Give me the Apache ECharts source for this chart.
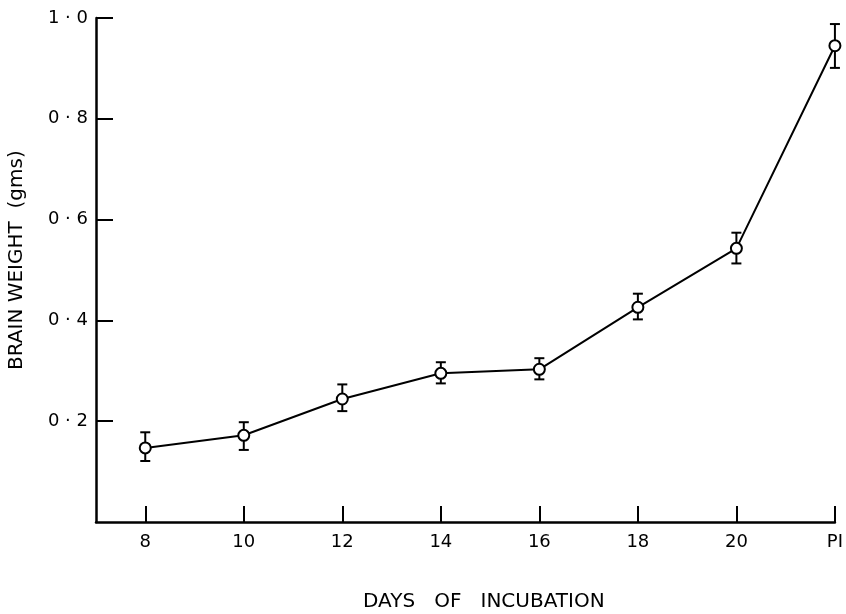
<!DOCTYPE html>
<html>
<head>
<meta charset="utf-8">
<script src="https://cdn.jsdelivr.net/npm/echarts@6/dist/echarts.min.js"></script>
<style>html,body{margin:0;padding:0;background:#fff;}#c{width:846px;height:614px;}</style>
</head>
<body>
<div id="c"></div>
<script>
var categories = ['8', '10', '12', '14', '16', '18', '20', 'PI'];
var meanWeight = [0.147, 0.172, 0.244, 0.295, 0.303, 0.426, 0.543, 0.945];
var errLow = [0.121, 0.143, 0.220, 0.275, 0.283, 0.402, 0.513, 0.901];
var errHigh = [0.178, 0.198, 0.273, 0.317, 0.325, 0.453, 0.574, 0.988];
var yTicks = [0.2, 0.4, 0.6, 0.8, 1.0];
var xTitle = 'DAYS   OF   INCUBATION';
var yTitle = 'BRAIN WEIGHT  (gms)';

var idx = categories.map(function (c, i) { return i; });
var lineData = meanWeight.map(function (v, i) { return [i, v]; });
var errData = meanWeight.map(function (v, i) { return [i, errLow[i], errHigh[i]]; });

var chart = echarts.init(document.getElementById('c'), null, {renderer: 'canvas'});
var font = 'DejaVu Sans';
chart.setOption({
  animation: false,
  backgroundColor: '#fff',
  grid: {left: 96, right: 11, top: 18, bottom: 92, containLabel: false},
  xAxis: {
    type: 'value', min: -0.5, max: 7,
    splitLine: {show: false},
    axisLine: {show: true, onZero: false, lineStyle: {color: '#000', width: 2.5}},
    axisTick: {show: true, inside: true, length: 16, customValues: idx, lineStyle: {color: '#000', width: 2}},
    axisLabel: {customValues: idx, margin: 11, color: '#000', fontFamily: font, fontSize: 18,
      formatter: function (v) { return categories[Math.round(v)]; }}
  },
  yAxis: {
    type: 'value', min: 0, max: 1.0,
    splitLine: {show: false},
    axisLine: {show: true, onZero: false, lineStyle: {color: '#000', width: 2.5}},
    axisTick: {show: true, inside: true, length: 17, customValues: yTicks, lineStyle: {color: '#000', width: 2}},
    axisLabel: {customValues: yTicks, margin: 8, color: '#000', fontFamily: font, fontSize: 18,
      formatter: function (v) { return v.toFixed(1).replace('.', ' · '); }}
  },
  graphic: [
    {type: 'text', left: 363, top: 592, style: {text: xTitle, fill: '#000', font: '20px "DejaVu Sans"'}},
    {type: 'text', x: 7, y: 370, rotation: Math.PI / 2, style: {text: yTitle, fill: '#000', font: '20px "DejaVu Sans"', textAlign: 'left', textVerticalAlign: 'top'}}
  ],
  series: [
    {
      type: 'custom', z: 1,
      data: errData,
      renderItem: function (params, api) {
        var x = api.value(0);
        var lo = api.coord([x, api.value(1)]);
        var hi = api.coord([x, api.value(2)]);
        var w = 5;
        var st = {stroke: '#000', lineWidth: 2};
        return {type: 'group', children: [
          {type: 'line', shape: {x1: lo[0], y1: lo[1], x2: hi[0], y2: hi[1]}, style: st},
          {type: 'line', shape: {x1: lo[0] - w, y1: lo[1], x2: lo[0] + w, y2: lo[1]}, style: st},
          {type: 'line', shape: {x1: hi[0] - w, y1: hi[1], x2: hi[0] + w, y2: hi[1]}, style: st}
        ]};
      }
    },
    {
      type: 'line', z: 2,
      data: lineData,
      symbol: 'circle', symbolSize: 11,
      lineStyle: {color: '#000', width: 2},
      itemStyle: {color: '#fff', borderColor: '#000', borderWidth: 2}
    }
  ]
});
</script>
</body>
</html>
